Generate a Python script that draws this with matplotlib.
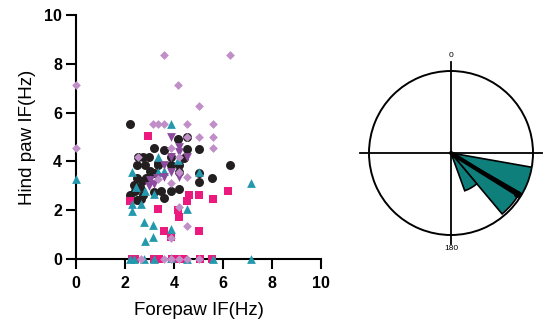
import numpy as np
import matplotlib
matplotlib.use("Agg")
import matplotlib.pyplot as plt

plt.rcParams['font.family'] = ['Liberation Sans', 'DejaVu Sans']

# ---- scatter data (Forepaw IF, Hind paw IF) ----
circ_x = [2.19, 4.17, 4.55, 4.55, 5.03, 3.17, 2.53, 2.75, 2.97, 2.49, 2.83, 3.35, 3.87, 4.19,
          6.28, 3.17, 4.19, 5.03, 5.03, 5.56, 2.49, 2.69, 2.86, 3.17, 2.19, 2.49, 2.66, 3.6,
          4.19, 3.45, 3.87, 2.62, 2.4, 3.0, 3.87, 3.6, 2.35, 3.35, 4.4, 2.75]
circ_y = [5.55, 4.93, 5.0, 4.52, 4.52, 4.55, 4.18, 4.18, 4.18, 3.84, 3.84, 3.84, 3.84, 3.84,
          3.84, 3.53, 3.56, 3.53, 3.15, 3.32, 3.3, 3.2, 3.3, 2.74, 2.63, 2.4, 2.47, 2.5,
          2.88, 2.8, 2.8, 2.95, 2.8, 3.6, 4.2, 4.45, 3.05, 3.95, 4.15, 2.62]

sq_x = [2.94, 2.19, 3.35, 4.17, 4.22, 4.62, 4.55, 5.03, 5.59, 6.19, 3.6, 3.87, 5.03,
        2.28, 3.17, 3.37, 4.17, 4.37, 5.08, 5.56, 2.4, 3.9]
sq_y = [5.03, 2.36, 2.05, 1.99, 1.71, 2.64, 2.36, 2.64, 2.47, 2.77, 1.14, 0.92, 1.16,
        0.0, 0.0, 0.0, 0.0, 0.0, 0.0, 0.0, 0.0, 0.0]

tri_x = [0.0, 3.87, 3.35, 2.3, 2.43, 2.3, 2.3, 2.66, 2.83, 3.17, 3.35, 5.03, 4.53, 7.13,
         2.79, 3.14, 2.83, 3.14, 3.87, 4.17, 3.6,
         2.21, 2.38, 2.76, 3.17, 3.87, 4.53, 5.59, 7.13]
tri_y = [3.29, 5.55, 4.18, 3.56, 2.95, 2.26, 1.95, 2.26, 2.78, 2.67, 3.56, 3.56, 2.05, 3.11,
         1.51, 1.41, 0.75, 0.89, 1.23, 4.04, 3.6,
         0.0, 0.0, 0.0, 0.0, 0.06, 0.0, 0.0, 0.0]

inv_x = [3.87, 4.19, 3.87, 4.55, 3.6, 3.87, 4.19, 3.03, 3.17, 2.97, 3.3, 3.58, 4.19]
inv_y = [5.0, 4.59, 4.18, 4.18, 3.84, 3.56, 3.36, 3.22, 3.08, 3.01, 3.3, 3.36, 4.4]

dia_x = [0.0, 0.0, 3.6, 6.28, 4.17, 5.03, 3.14, 3.35, 3.6, 4.55, 5.59, 4.55, 5.03, 5.59,
         3.87, 5.59, 2.53, 4.19, 4.19, 4.55, 3.35, 3.87, 4.19, 4.55, 3.87,
         2.66, 3.6, 3.87, 4.19, 4.55, 5.03]
dia_y = [7.15, 4.55, 8.36, 8.36, 7.15, 6.26, 5.55, 5.55, 5.55, 5.55, 5.55, 5.0, 5.0, 5.0,
         4.55, 4.55, 4.18, 4.18, 3.56, 3.36, 3.29, 3.11, 2.12, 1.34, 0.86,
         0.0, 0.0, 0.0, 0.0, 0.0, 0.0]

x_ticks = [0, 2, 4, 6, 8, 10]
y_ticks = [0, 2, 4, 6, 8, 10]

# ---- rose data (degrees, clockwise from top) ----
bin_centers = [110, 130, 150]
bin_width = 20
bin_values = [1.0, 0.97, 0.49]
mean_angle = 122
mean_length = 0.95

fig = plt.figure(figsize=(5.46, 3.31), dpi=100)

ax = fig.add_axes([76/546, 1 - 259/331, (321-76)/546, (259-15)/331])
kw = dict(clip_on=False, linewidths=0, zorder=3)
ax.scatter(circ_x, circ_y, marker='o', s=42, color='#231f20', **kw)
ax.scatter(sq_x, sq_y, marker='s', s=34, color='#ec1a7f', **kw)
ax.scatter(tri_x, tri_y, marker='^', s=40, color='#2499ad', **kw)
ax.scatter(inv_x, inv_y, marker='v', s=40, color='#8d4b9e', **kw)
ax.scatter(dia_x, dia_y, marker='D', s=20, color='#c08fc8', **kw)

ax.set_xlim(0, 10)
ax.set_ylim(0, 10)
ax.set_xticks(x_ticks)
ax.set_yticks(y_ticks)
ax.set_xticklabels([str(t) for t in x_ticks], fontsize=11.5, fontweight='bold')
ax.set_yticklabels([str(t) for t in y_ticks], fontsize=11.5, fontweight='bold')
for s in ['top', 'right']:
    ax.spines[s].set_visible(False)
for s in ['left', 'bottom']:
    ax.spines[s].set_linewidth(1.5)
ax.tick_params(width=1.5, length=7)
ax.tick_params(axis='x', pad=5)
ax.tick_params(axis='y', pad=3)
ax.set_xlabel('Forepaw IF(Hz)', fontsize=13.5, labelpad=8)
ax.set_ylabel('Hind paw IF(Hz)', fontsize=13.5, labelpad=6)

# ---- polar rose ----
cx, cy, R = 451, 153, 82
pax = fig.add_axes([(cx-R)/546, 1 - (cy+R)/331, 2*R/546, 2*R/331], projection='polar')
pax.set_theta_zero_location('N')
pax.set_theta_direction(-1)
pax.set_ylim(0, 1)
pax.bar(np.deg2rad(bin_centers), bin_values, width=np.deg2rad(bin_width),
        color='#0e7f7b', edgecolor='black', linewidth=1.2, zorder=3)
pax.grid(False)
pax.set_xticks([])
pax.set_yticks([])
pax.spines['polar'].set_linewidth(1.4)
for th in [0, 90, 180, 270]:
    pax.plot([np.deg2rad(th)]*2, [0, 1.11], color='black', lw=1.3, clip_on=False, zorder=4)
pax.plot([np.deg2rad(mean_angle)]*2, [0, mean_length], color='black', lw=3, zorder=5,
         solid_capstyle='round')
pax.plot([np.deg2rad(mean_angle)], [mean_length], 'o', color='black', ms=4, zorder=5)
pax.text(0, 1.15, '0', ha='center', va='bottom', fontsize=6)
pax.text(np.pi, 1.12, '180', ha='center', va='top', fontsize=6)

fig.savefig('out.png', dpi=100)
